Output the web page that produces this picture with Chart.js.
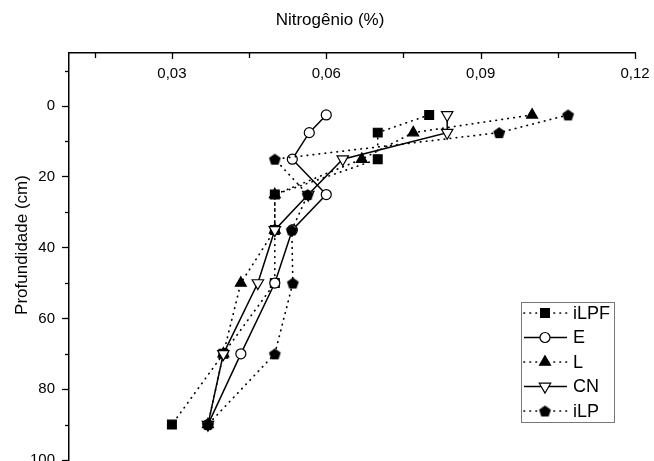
<!DOCTYPE html>
<html>
<head>
<meta charset="utf-8">
<title>Nitrogênio (%)</title>
<script src="https://cdn.jsdelivr.net/npm/chart.js@4.4.0/dist/chart.umd.min.js"></script>
<style>
  html, body { margin: 0; padding: 0; background: #fff; overflow: hidden; }
  #wrap { width: 654px; height: 461px; overflow: hidden; }
</style>
</head>
<body>
<div id="wrap"><canvas id="chart" width="654" height="476"></canvas></div>
<script>
// profundidade (cm)
const depths = [2.5, 7.5, 15, 25, 35, 50, 70, 90];

// nitrogênio (%) de cada sistema
const iLPF = [0.080, 0.070, 0.070, 0.050, 0.050, 0.050, 0.040, 0.030];
const E    = [0.060, 0.0567, 0.0534, 0.060, 0.0534, 0.050, 0.0434, 0.037];
const L    = [0.100, 0.0769, 0.0669, 0.050, 0.050, 0.0434, 0.040, 0.037];
const CN   = [0.0835, 0.0835, 0.0632, 0.0565, 0.050, 0.0467, 0.040, 0.037];
const iLP  = [0.107, 0.0936, 0.050, 0.0564, 0.0533, 0.0535, 0.050, 0.037];

// marcas dos eixos
const xMajor = [0.03, 0.06, 0.09, 0.12];
const xMinor = [0.015, 0.045, 0.075, 0.105];
const yMajor = [0, 20, 40, 60, 80, 100];
const yMinor = [-10, 10, 30, 50, 70, 90];

const FONT = "'Liberation Sans', Arial, sans-serif";

// pentágono cheio (não existe no Chart.js)
function pentagon(r) {
  const c = document.createElement('canvas');
  const s = Math.ceil(r * 2 + 2);
  c.width = s; c.height = s;
  const g = c.getContext('2d');
  g.beginPath();
  for (let i = 0; i < 5; i++) {
    const a = -Math.PI / 2 + i * 2 * Math.PI / 5;
    const px = s / 2 + r * Math.cos(a), py = s / 2 + 0.6 + r * Math.sin(a);
    if (i === 0) g.moveTo(px, py); else g.lineTo(px, py);
  }
  g.closePath();
  g.fillStyle = '#000';
  g.fill();
  return c;
}

const dotted = { borderDash: [0.5, 5.5], borderCapStyle: 'round', borderWidth: 1.7 };
const solid = { borderDash: [], borderWidth: 1.5 };

function makeSet(label, values, order, line, point) {
  return Object.assign({
    label,
    order,
    data: depths.map((d, i) => ({ x: values[i], y: d })),
    showLine: true,
    borderColor: '#000',
    pointBorderColor: '#000',
    pointBorderWidth: 1.2,
    pointHoverRadius: 0
  }, line, point);
}

const datasets = [
  makeSet('iLPF', iLPF, 5, dotted, { pointStyle: 'rect', pointRadius: 6.2, pointBackgroundColor: '#000' }),
  makeSet('E', E, 4, solid, { pointStyle: 'circle', pointRadius: 5, pointBackgroundColor: '#fff' }),
  makeSet('L', L, 3, dotted, { pointStyle: 'triangle', pointRadius: 6.3, pointBackgroundColor: '#000' }),
  makeSet('CN', CN, 2, solid, { pointStyle: 'triangle', pointRotation: 180, pointRadius: 6.6, pointBackgroundColor: '#fff' }),
  makeSet('iLP', iLP, 1, dotted, { pointStyle: pentagon(6.2), pointRadius: 6, pointBackgroundColor: '#000' })
];

// eixos secundários, títulos e legenda
const extras = {
  id: 'extras',
  afterDraw(chart) {
    const ctx = chart.ctx;
    const xs = chart.scales.x, ys = chart.scales.y;
    const top = chart.chartArea.top, left = chart.chartArea.left;
    ctx.save();
    ctx.strokeStyle = '#000';
    ctx.fillStyle = '#000';
    ctx.lineWidth = 1.3;

    // marcas do eixo x (para dentro)
    xMajor.concat(xMinor).forEach(v => {
      const px = Math.round(xs.getPixelForValue(v)) + 0.5;
      const len = xMajor.includes(v) ? 6 : 5;
      ctx.beginPath(); ctx.moveTo(px, top); ctx.lineTo(px, top + len); ctx.stroke();
    });
    ctx.font = '15px ' + FONT;
    ctx.textAlign = 'center';
    ctx.textBaseline = 'middle';
    xMajor.forEach(v => {
      ctx.fillText(v.toFixed(2).replace('.', ','), xs.getPixelForValue(v), top + 21);
    });

    // marcas menores do eixo y
    yMinor.forEach(v => {
      const py = Math.round(ys.getPixelForValue(v)) + 0.5;
      ctx.beginPath(); ctx.moveTo(left, py); ctx.lineTo(left - 4, py); ctx.stroke();
    });

    // títulos
    ctx.font = '17px ' + FONT;
    ctx.fillText('Nitrogênio (%)', 330, 20);
    ctx.save();
    ctx.translate(22, 245);
    ctx.rotate(-Math.PI / 2);
    ctx.fillText('Profundidade (cm)', 0, 0);
    ctx.restore();

    // legenda
    ctx.strokeStyle = '#777';
    ctx.lineWidth = 1;
    ctx.strokeRect(521.5, 302.5, 93, 120);
    chart.data.datasets.forEach((ds, i) => {
      const yy = 313 + i * 24.5;
      ctx.strokeStyle = '#000';
      ctx.lineWidth = ds.borderWidth;
      ctx.lineCap = ds.borderCapStyle || 'butt';
      ctx.setLineDash(ds.borderDash);
      ctx.beginPath(); ctx.moveTo(524, yy); ctx.lineTo(567, yy); ctx.stroke();
      ctx.setLineDash([]);
      ctx.lineCap = 'butt';
      ctx.fillStyle = ds.pointBackgroundColor;
      ctx.lineWidth = ds.pointBorderWidth;
      Chart.helpers.drawPoint(ctx, {
        pointStyle: ds.pointStyle,
        radius: ds.pointRadius,
        rotation: ds.pointRotation || 0,
        borderWidth: ds.pointBorderWidth
      }, 545, yy);
      ctx.fillStyle = '#000';
      ctx.font = '18px ' + FONT;
      ctx.textAlign = 'left';
      ctx.fillText(ds.label, 573, yy + 1);
    });
    ctx.restore();
  }
};

new Chart(document.getElementById('chart'), {
  type: 'scatter',
  data: { datasets },
  options: {
    responsive: false,
    devicePixelRatio: 1,
    animation: false,
    layout: { padding: { top: 0, right: 19, bottom: 0, left: 0 } },
    plugins: { legend: { display: false }, tooltip: { enabled: false } },
    scales: {
      x: {
        type: 'linear',
        position: 'top',
        min: 0.01,
        max: 0.12,
        grid: { display: false, drawTicks: false },
        border: { display: true, color: '#000', width: 1.5 },
        ticks: { display: false },
        afterFit: s => { s.height = 53; }
      },
      y: {
        type: 'linear',
        reverse: true,
        min: -15,
        max: 100,
        grid: {
          drawOnChartArea: false,
          drawTicks: true,
          tickLength: 7,
          tickWidth: 1.3,
          tickColor: c => (c.tick && yMajor.includes(c.tick.value)) ? '#000' : 'rgba(0,0,0,0)'
        },
        border: { display: true, color: '#000', width: 1.5 },
        ticks: {
          stepSize: 10,
          includeBounds: false,
          padding: 7,
          color: '#000',
          font: { family: FONT, size: 15 },
          callback: v => yMajor.includes(v) ? String(v) : ''
        },
        afterFit: s => { s.width = 69; }
      }
    }
  },
  plugins: [extras]
});
</script>
</body>
</html>
